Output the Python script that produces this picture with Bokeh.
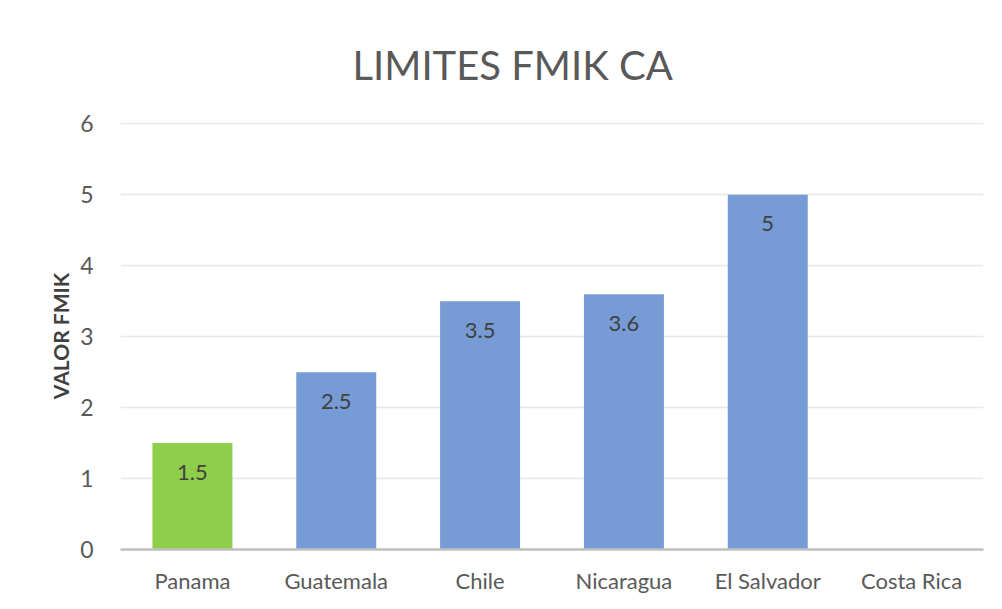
import math
from bokeh.plotting import figure
from bokeh.models import ColumnDataSource
from bokeh.core.properties import value
from bokeh.embed import file_html
from bokeh.resources import INLINE

categories = ["Panama", "Guatemala", "Chile", "Nicaragua", "El Salvador", "Costa Rica"]
values = [1.5, 2.5, 3.5, 3.6, 5.0, None]
colors = ["#8FCE4B", "#779BD4", "#779BD4", "#779BD4", "#779BD4", "#779BD4"]
y_ticks = [0, 1, 2, 3, 4, 5, 6]

FONT = "Lato"

tops = [v if v is not None else float("nan") for v in values]
labels = ["" if v is None else ("%g" % v) for v in values]
src = ColumnDataSource(dict(cat=categories, top=tops, color=colors, label=labels))

p = figure(x_range=categories, y_range=(0, 6.02), width=986, height=605,
           output_backend="svg", toolbar_location=None,
           min_border_left=120, min_border_right=3, min_border_top=122, min_border_bottom=56)

p.title.text = "LIMITES FMIK CA"
p.title.align = "left"
p.title.offset = 232
p.title.text_font = FONT
p.title.text_font_style = "normal"
p.title.text_font_size = "40px"
p.title.text_color = "#595959"
p.title.standoff = 68

p.vbar(x="cat", top="top", bottom=0, width=0.556, color="color", line_color=None, source=src)
p.text(x="cat", y="top", text="label", source=src, y_offset=29,
       text_align="center", text_baseline="middle",
       text_font=value(FONT), text_font_size="22px", text_color="#404040")

p.outline_line_color = None
p.background_fill_color = "white"
p.border_fill_color = "white"
p.xgrid.grid_line_color = None
p.ygrid.grid_line_color = "#E7E7E7"
p.ygrid.grid_line_width = 1.5

p.yaxis.ticker = y_ticks
p.yaxis.axis_line_color = None
p.yaxis.major_tick_line_color = None
p.yaxis.minor_tick_line_color = None
p.yaxis.major_label_text_font = FONT
p.yaxis.major_label_text_font_size = "23px"
p.yaxis.major_label_text_color = "#595959"
p.yaxis.major_label_standoff = 21
p.yaxis.axis_label = "VALOR FMIK"
p.yaxis.axis_label_text_font = FONT
p.yaxis.axis_label_text_font_style = "bold"
p.yaxis.axis_label_text_font_size = "21px"
p.yaxis.axis_label_text_color = "#404040"
p.yaxis.axis_label_standoff = 4

p.xaxis.axis_line_color = "#BFBFBF"
p.xaxis.axis_line_width = 2.5
p.xaxis.major_tick_line_color = None
p.xaxis.minor_tick_line_color = None
p.xaxis.major_label_text_font = FONT
p.xaxis.major_label_text_font_size = "22px"
p.xaxis.major_label_text_color = "#595959"
p.xaxis.major_label_standoff = 11

p.x_range.range_padding = 0

open("out.html", "w").write(file_html(p, INLINE))
